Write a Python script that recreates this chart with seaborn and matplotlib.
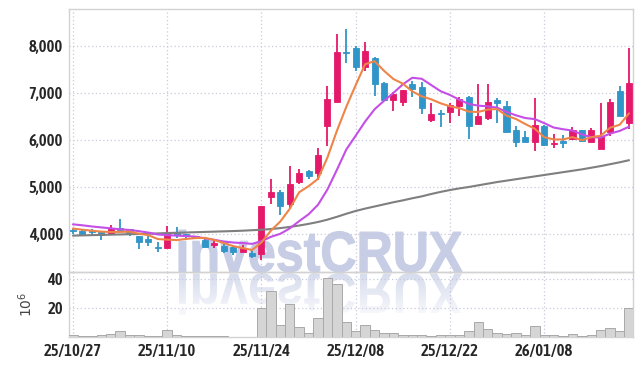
import numpy as np
import pandas as pd
import matplotlib
matplotlib.use("Agg")
import matplotlib.pyplot as plt
import seaborn as sns
from matplotlib.textpath import TextPath
from matplotlib.font_manager import FontProperties
from matplotlib.patches import PathPatch
from matplotlib.transforms import Affine2D

# ---------------- data ----------------
dates = [
    "2025-10-27", "2025-10-28", "2025-10-29", "2025-10-30", "2025-10-31",
    "2025-11-03", "2025-11-04", "2025-11-05", "2025-11-06", "2025-11-07",
    "2025-11-10", "2025-11-11", "2025-11-12", "2025-11-13", "2025-11-14",
    "2025-11-17", "2025-11-18", "2025-11-19", "2025-11-20", "2025-11-21",
    "2025-11-24", "2025-11-25", "2025-11-26", "2025-11-27", "2025-11-28",
    "2025-12-01", "2025-12-02", "2025-12-03", "2025-12-04", "2025-12-05",
    "2025-12-08", "2025-12-09", "2025-12-10", "2025-12-11", "2025-12-12",
    "2025-12-15", "2025-12-16", "2025-12-17", "2025-12-18", "2025-12-19",
    "2025-12-22", "2025-12-23", "2025-12-24", "2025-12-26", "2025-12-29",
    "2025-12-30", "2026-01-02", "2026-01-05", "2026-01-06", "2026-01-07",
    "2026-01-08", "2026-01-09", "2026-01-12", "2026-01-13", "2026-01-14",
    "2026-01-15", "2026-01-16", "2026-01-19", "2026-01-20", "2026-01-21",
]
opens = [4075, 4060, 4055, 4035, 4005, 4120, 4100, 3950, 3900, 3720,
         3710, 4020, 3995, 3950, 3880, 3770, 3750, 3730, 3625, 3600,
         3570, 4795, 4900, 4630, 5115, 5340, 5290, 6305, 6815, 7880,
         7965, 7545, 7740, 7205, 6850, 6800, 7190, 7125, 6425, 6560,
         6605, 6730, 6925, 6335, 6460, 6850, 6730, 6205, 6065, 5965,
         6305, 5915, 5960, 6015, 6215, 5965, 5815, 6175, 7045, 6355]
highs = [4135, 4080, 4105, 4050, 4185, 4320, 4110, 3960, 3950, 3825,
         4175, 4140, 4000, 3960, 3890, 3880, 3800, 3740, 3765, 3640,
         4595, 5165, 4935, 5455, 5375, 5360, 5835, 7150, 8250, 8360,
         8010, 8095, 7760, 7230, 7030, 7065, 7260, 7230, 6780, 6630,
         6780, 6925, 6940, 7190, 7190, 6900, 6820, 6300, 6190, 6900,
         6320, 6120, 6105, 6285, 6220, 6250, 6795, 6865, 7150, 7950]
lows = [4000, 3990, 3980, 3870, 3970, 4050, 3965, 3680, 3750, 3610,
        3710, 3920, 3880, 3900, 3720, 3710, 3590, 3555, 3620, 3495,
        3445, 4640, 4405, 4545, 5055, 5170, 5150, 5870, 6800, 7630,
        7475, 7475, 6935, 6860, 6615, 6725, 6920, 6555, 6385, 6270,
        6370, 6510, 6020, 6335, 6430, 6355, 6175, 5845, 5965, 5765,
        5880, 5825, 5835, 6010, 5950, 5960, 5805, 6085, 6520, 6230]
closes = [4065, 4000, 4045, 3980, 4120, 4080, 4020, 3830, 3825, 3705,
          4020, 3970, 3950, 3920, 3730, 3790, 3645, 3625, 3710, 3525,
          4595, 4900, 4600, 5055, 5290, 5240, 5680, 6875, 7880, 7850,
          7560, 7895, 7200, 6860, 6970, 7065, 7080, 6670, 6545, 6545,
          6745, 6875, 6305, 6510, 6805, 6795, 6175, 5950, 5965, 6310,
          5895, 5940, 5945, 6215, 5985, 6215, 6095, 6800, 6520, 7205]
volume_m = [1.2, 0.5, 0.5, 1.2, 2.1, 3.9, 1.2, 1.2, 0.5, 0.5,
            4.6, 1.2, 0.5, 0.5, 0.5, 0.4, 0.4, 0.3, 0.3, 0.3,
            20.0, 31.5, 8.3, 22.5, 7.1, 2.5, 12.9, 40.5, 36.3, 10.6,
            4.4, 8.3, 4.6, 2.8, 2.8, 1.2, 1.2, 1.2, 0.5, 1.2,
            1.2, 1.2, 3.9, 10.1, 5.3, 2.8, 2.1, 2.8, 1.2, 7.4,
            1.2, 1.2, 0.5, 1.8, 0.5, 1.2, 4.6, 6.0, 3.9, 20.0]
ma5 = [4115, 4090, 4070, 4050, 4042, 4045, 4049, 4006, 3975, 3892,
       3880, 3870, 3894, 3913, 3918, 3872, 3807, 3742, 3700, 3659,
       3820, 4071, 4266, 4535, 4888, 5017, 5173, 5628, 6193, 6705,
       7169, 7612, 7677, 7473, 7297, 7198, 7035, 6929, 6866, 6781,
       6717, 6676, 6603, 6596, 6648, 6658, 6518, 6447, 6338, 6239,
       6059, 6012, 6011, 6061, 5996, 6060, 6091, 6262, 6323, 6567]
ma10 = [4205, 4185, 4160, 4140, 4120, 4100, 4085, 4060, 4030, 3990,
        3975, 3965, 3955, 3944, 3905, 3876, 3839, 3818, 3807, 3789,
        3846, 3939, 4004, 4118, 4274, 4419, 4622, 4947, 5364, 5797,
        6093, 6393, 6653, 6833, 7001, 7184, 7324, 7303, 7170, 7039,
        6958, 6856, 6766, 6731, 6715, 6688, 6597, 6525, 6467, 6444,
        6359, 6265, 6229, 6200, 6118, 6060, 6052, 6137, 6192, 6282]
ma_long = [3965, 3970, 3975, 3980, 3985, 3990, 3995, 4000, 4005, 4012,
           4020, 4026, 4032, 4038, 4044, 4050, 4056, 4062, 4070, 4080,
           4090, 4105, 4125, 4150, 4180, 4215, 4255, 4305, 4365, 4430,
           4490, 4540, 4585, 4630, 4675, 4715, 4760, 4800, 4850, 4895,
           4935, 4970, 5000, 5035, 5070, 5105, 5135, 5165, 5195, 5225,
           5255, 5285, 5315, 5345, 5375, 5410, 5445, 5485, 5525, 5570]
price_ticks = [4000, 5000, 6000, 7000, 8000]
volume_ticks = [20, 40]
watermark = "investCRUX"

# ---------------- style ----------------
sns.set_style("white")
plt.rcParams["font.family"] = ["Asap Condensed", "DejaVu Sans"]

UP = "#e5196a"
DOWN = "#3095c8"
GRID = "#c9c9de"
SPINE = "#d2d2d2"
TXT = "#262626"

df = pd.DataFrame({
    "x": np.arange(len(dates)),
    "date": pd.to_datetime(dates),
    "open": opens, "high": highs, "low": lows, "close": closes,
    "vol": volume_m, "ma5": ma5, "ma10": ma10, "malong": ma_long,
})
df["up"] = df["close"] >= df["open"]
df["color"] = np.where(df["up"], UP, DOWN)
df["body_lo"] = df[["open", "close"]].min(axis=1)
df["body_h"] = (df["close"] - df["open"]).abs().clip(lower=28)

W, H = 643, 366
fig = plt.figure(figsize=(W / 100, H / 100), dpi=100)
fig.patch.set_facecolor("white")

L, R = 69 / W, 633 / W
ax = fig.add_axes([L, 1 - 272 / H, R - L, (272 - 9) / H])
axv = fig.add_axes([L, 1 - 337 / H, R - L, (337 - 272) / H], sharex=ax)
wm = fig.add_axes([0, 0, 1, 1], zorder=-5)
for a in (ax, axv):
    a.set_facecolor("none")

# ---------------- watermark ----------------
fp = FontProperties(family="Liberation Sans", weight="bold")
tp = TextPath((0, 0), watermark, size=100, prop=fp)
bb = tp.get_extents()
x0, x1 = 179, 462
top_main, base = 230, 272
sx = (x1 - x0) / bb.width
sy = (base - top_main) / bb.height
main_tr = Affine2D().translate(-bb.x0, -bb.y0).scale(sx, -sy).translate(x0, base)
main_path = main_tr.transform_path(tp)
wm.add_patch(PathPatch(main_path, facecolor="#c6cde5", edgecolor="#c6cde5", lw=0.8))
refl_tr = Affine2D().translate(-bb.x0, -bb.y0).scale(sx, sy).translate(x0, base + 1)
refl_path = refl_tr.transform_path(tp)
refl_patch = PathPatch(refl_path, facecolor="none", edgecolor="none", transform=wm.transData)
wm.add_patch(refl_patch)
grad = np.zeros((64, 2, 4))
grad[..., 0] = 0.80
grad[..., 1] = 0.83
grad[..., 2] = 0.91
grad[..., 3] = np.linspace(0.8, 0.12, 64)[:, None]
im = wm.imshow(grad, extent=[x0 - 2, x1 + 2, base + 1 + (base - top_main) + 2, base + 1],
               origin="upper", aspect="auto", interpolation="bilinear")
im.set_clip_path(refl_patch)
wm.set_xlim(0, W)
wm.set_ylim(H, 0)
wm.axis("off")

# ---------------- candles ----------------
ax.vlines(df["x"], df["low"], df["high"], colors=df["color"], lw=1.3, zorder=3)
ax.bar(df["x"], df["body_h"], bottom=df["body_lo"], width=0.64,
       color=df["color"], edgecolor=df["color"], linewidth=0.6, zorder=4)

sns.lineplot(data=df, x="x", y="malong", color="#7f7f7f", lw=1.5, ax=ax, zorder=5)
sns.lineplot(data=df, x="x", y="ma10", color="#c44fe6", lw=1.5, ax=ax, zorder=5)
sns.lineplot(data=df, x="x", y="ma5", color="#ef8447", lw=1.5, ax=ax, zorder=6)

# ---------------- volume ----------------
sns.barplot(data=df, x="x", y="vol", native_scale=True, width=1.0,
            color="#d5d5d5", edgecolor="#a9a9a9", linewidth=0.7,
            saturation=1, errorbar=None, ax=axv, zorder=3)

# ---------------- axes formatting ----------------
ax.set_xlim(-0.42, len(dates) - 1 + 0.42)
ax.set_ylim(3191, 8787)
axv.set_ylim(0, 44.8)

tick_pos = list(range(0, len(dates), 10))
tick_lbl = [df["date"][i].strftime("%y/%m/%d") for i in tick_pos]

ax.set_yticks(price_ticks)
ax.set_yticklabels([f"{v:,}" for v in price_ticks])
axv.set_yticks(volume_ticks)
axv.set_yticklabels([str(v) for v in volume_ticks])
axv.set_xticks(tick_pos)
axv.set_xticklabels(tick_lbl)
ax.tick_params(axis="x", labelbottom=False, length=0)

for a in (ax, axv):
    a.tick_params(axis="both", length=0, pad=4.3, labelsize=12, labelcolor=TXT)
    for lab in a.get_yticklabels() + a.get_xticklabels():
        lab.set_fontweight(600)
    a.grid(True, axis="both", linestyle=(0, (1, 2)), color=GRID, lw=0.9)
    a.set_axisbelow(True)
    for s in a.spines.values():
        s.set_color(SPINE)
        s.set_linewidth(1.0)
    a.set_xlabel("")
    a.set_ylabel("")

axv.set_ylabel(r"$10^6$", fontsize=10, color="#444444", labelpad=9, family="DejaVu Sans")

fig.savefig("out.png", dpi=100, facecolor="white")
